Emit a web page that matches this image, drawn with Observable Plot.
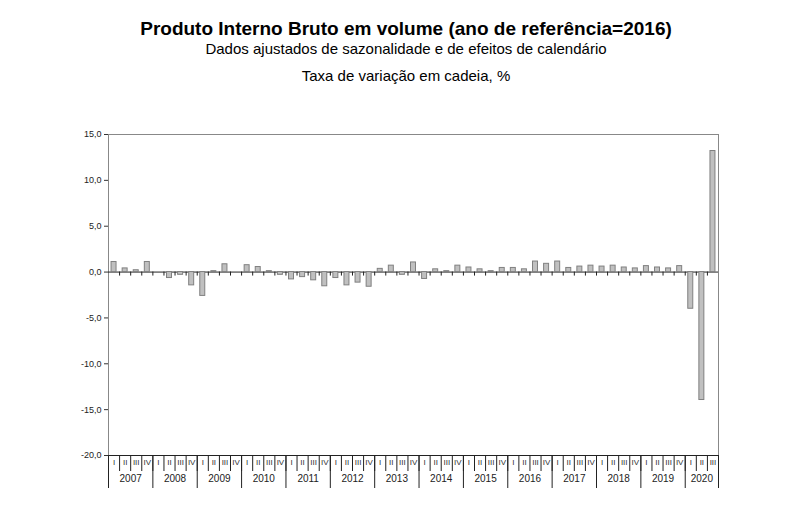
<!DOCTYPE html>
<html><head><meta charset="utf-8">
<script src="https://cdn.jsdelivr.net/npm/d3@7"></script>
<script src="https://cdn.jsdelivr.net/npm/@observablehq/plot@0.6"></script>
<style>
body{margin:0;background:#fff;}
#wrap{position:relative;width:800px;height:510px;background:#fff;}
#wrap svg{position:absolute;left:0;top:0;}
.t{position:absolute;left:6px;width:800px;text-align:center;line-height:20px;color:#000;white-space:nowrap;font-family:"Liberation Sans Narrow","Liberation Sans",Arial,sans-serif;}
</style></head><body>
<div id="wrap"></div>
<script>
const years = ["2007","2008","2009","2010","2011","2012","2013","2014","2015","2016","2017","2018","2019","2020"];
const quarterNames = ["I","II","III","IV"];
const growth = [
  1.1, 0.4, 0.2, 1.1,
  0.0, -0.65, -0.3, -1.45,
  -2.6, 0.1, 0.85, 0.0,
  0.75, 0.55, 0.1, -0.3,
  -0.8, -0.55, -0.9, -1.55,
  -0.65, -1.45, -1.15, -1.6,
  0.35, 0.7, -0.3, 1.05,
  -0.75, 0.3, 0.1, 0.7,
  0.5, 0.3, 0.1, 0.45,
  0.45, 0.3, 1.15, 0.9,
  1.15, 0.45, 0.6, 0.7,
  0.6, 0.7, 0.5, 0.4,
  0.65, 0.5, 0.4, 0.65,
  -4.0, -13.95, 13.2
];
const yTicks = [-20, -15, -10, -5, 0, 5, 10, 15];

const data = growth.map((v, i) => ({i, v, q: quarterNames[i % 4], year: years[Math.floor(i / 4)]}));
const n = data.length;
const boundaries = d3.range(0, n + 1);
const yearInfo = years.map((y, k) => {
  const start = k * 4, end = Math.min(n, start + 4);
  return {year: y, start, end, mid: (start + end) / 2};
});
const yearBounds = Array.from(new Set([...yearInfo.map(d => d.start), n]));

const font = "'Liberation Sans Narrow','Liberation Sans',Arial,sans-serif";
const chart = Plot.plot({
  width: 800,
  height: 510,
  marginLeft: 108,
  marginRight: 82,
  marginTop: 134,
  marginBottom: 55,
  style: {fontFamily: font, fontSize: "9px", color: "#222", background: "transparent"},
  x: {domain: [0, n], axis: null},
  y: {domain: [-20, 15], axis: null},
  marks: [
    Plot.frame({stroke: "#888"}),
    Plot.axisY({ticks: yTicks, tickFormat: d => d.toFixed(1).replace(".", ","), tickSize: 4, tickPadding: 3, fontSize: 9, stroke: "#333", label: null}),
    Plot.ruleY([0], {stroke: "#222"}),
    Plot.ruleY([-20], {stroke: "#222"}),
    Plot.ruleX(boundaries.slice(1, -1), {x: d => d, y1: 0, y2: 0, insetBottom: -4, stroke: "#222"}),
    Plot.rectY(data, {x1: d => d.i + 0.275, x2: d => d.i + 0.725, y: "v", fill: "#c0c0c0", stroke: "#808080", strokeWidth: 1}),
    Plot.ruleX(boundaries, {x: d => d, y1: -20, y2: -20, insetBottom: -16, stroke: "#222"}),
    Plot.ruleX(yearBounds, {x: d => d, y1: -20, y2: -20, insetBottom: -33, stroke: "#222"}),
    Plot.text(data, {x: d => d.i + 0.5, text: "q", frameAnchor: "bottom", dy: 9, fontSize: 8, fill: "#333"}),
    Plot.text(yearInfo, {x: "mid", text: "year", frameAnchor: "bottom", dy: 26, fontSize: 10, fill: "#222"})
  ]
});
const wrap = document.getElementById("wrap");
wrap.appendChild(chart);
const lines = [
  {text: "Produto Interno Bruto em volume (ano de referência=2016)", top: 19, size: 19, weight: "bold"},
  {text: "Dados ajustados de sazonalidade e de efeitos de calendário", top: 39, size: 15, weight: "normal"},
  {text: "Taxa de variação em cadeia, %", top: 66, size: 15, weight: "normal"}
];
for (const l of lines) {
  const d = document.createElement("div");
  d.className = "t";
  d.style.top = l.top + "px";
  d.style.fontSize = l.size + "px";
  d.style.fontWeight = l.weight;
  d.textContent = l.text;
  wrap.appendChild(d);
}
</script>
</body></html>
